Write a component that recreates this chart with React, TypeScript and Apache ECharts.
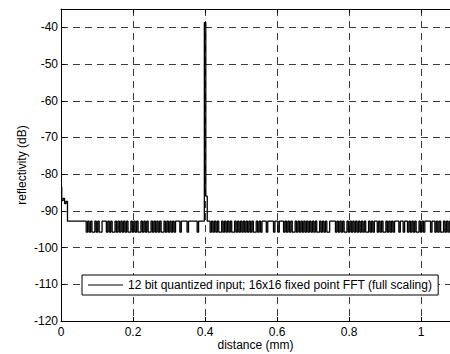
import React, { useEffect, useRef } from "react";
import * as echarts from "echarts";

// sample spacing along distance axis (mm)
const xStep = 0.004;

// first samples near the surface (dB), i = 0..17
const startValues = [
  -83.5, -87.2, -86.6, -88.0, -87.4, -92.8, -92.8, -92.8, -92.8, -92.8,
  -92.8, -92.8, -92.8, -92.8, -92.8, -92.8, -92.8, -92.8,
];

// quantized noise floor levels (dB)
const HIGH = -92.8;
const LOW = -95.8;
const PEAK = -38.7;
const SHOULDER = -86.0;

// level codes, i = 18..275 ("0" high, "1" low, "P" peak, "Q" shoulder)
const noiseSegments = [
  "101011010110", "00", "1010110101", "0", "10101101", "0", "10110101011", "0",
  "10101011", "0", "1010101", "00010000100000", "01000", "0", "P", "Q", "00",
  "101010110101", "0", "101101010101", "0", "1010110101", "00010000100100010",
  "10101101010101", "0", "101010110101011", "0000", "1010101101010101", "0",
  "10101101010", "0", "1010110101010", "00100100", "1010101101010", "000100",
  "1010110101010101",
];

const xTicks = [0, 0.2, 0.4, 0.6, 0.8, 1];
const yTicks = [-120, -110, -100, -90, -80, -70, -60, -50, -40];
const X_MAX = 1.08;
const Y_MAX = -35;

const seriesName = "12 bit quantized input; 16x16 fixed point FFT (full scaling)";
const FONT = "'Liberation Sans', Arial, Helvetica, sans-serif";

const codeValue: Record<string, number> = { "0": HIGH, "1": LOW, P: PEAK, Q: SHOULDER };

function onTick(v: number, ticks: number[]) {
  return ticks.some((t) => Math.abs(t - v) < 1e-6);
}

export default function App() {
  const ref = useRef<HTMLDivElement>(null);
  useEffect(() => {
    if (!ref.current) return;
    const chart = echarts.init(ref.current, undefined, { renderer: "svg" });
    const codes = noiseSegments.join("").split("");
    const values = startValues.concat(codes.map((c) => codeValue[c]));
    const data = values.map((v, i) => [i * xStep, v]);

    const gridLine = {
      show: true,
      showMaxLine: false,
      lineStyle: { color: "#3a3a3a", width: 1, type: [7, 5] as any },
    };
    chart.setOption({
      animation: false,
      backgroundColor: "#fff",
      textStyle: { fontFamily: FONT },
      grid: { left: 61, top: 9, right: 0, bottom: 33, containLabel: false, outerBoundsMode: "none" },
      legend: {
        left: 82,
        top: 275,
        padding: [3, 6],
        icon: "rect",
        itemWidth: 35,
        itemHeight: 1,
        itemGap: 5,
        borderColor: "#000",
        borderWidth: 1,
        borderRadius: 0,
        backgroundColor: "#fff",
        textStyle: { fontSize: 12, color: "#000", fontFamily: FONT, lineHeight: 14 },
        data: [seriesName],
      },
      xAxis: [
        {
          type: "value",
          min: xTicks[0],
          max: X_MAX,
          interval: 0.2,
          position: "bottom",
          name: "distance (mm)",
          nameLocation: "middle",
          nameGap: 18,
          nameMoveOverlap: false,
          nameTextStyle: { fontSize: 12, color: "#000", fontFamily: FONT, lineHeight: 12 },
          axisLine: { show: true, onZero: false, lineStyle: { color: "#000", width: 1 } },
          axisTick: { show: true, inside: true, length: 4, lineStyle: { color: "#000" } },
          axisLabel: {
            show: true,
            fontSize: 12,
            lineHeight: 12,
            color: "#000",
            margin: 5,
            fontFamily: FONT,
            formatter: (v: number) => (onTick(v, xTicks) ? String(+v.toFixed(1)) : ""),
          },
          splitLine: gridLine,
        },
        {
          type: "value",
          min: xTicks[0],
          max: X_MAX,
          interval: 0.2,
          position: "top",
          axisLine: { show: true, onZero: false, lineStyle: { color: "#000", width: 1 } },
          axisTick: { show: true, inside: true, length: 4, lineStyle: { color: "#000" } },
          axisLabel: { show: false },
          splitLine: { show: false },
        },
      ],
      yAxis: {
        type: "value",
        min: yTicks[0],
        max: Y_MAX,
        interval: 10,
        name: "reflectivity (dB)",
        nameLocation: "middle",
        nameGap: 33,
        nameMoveOverlap: false,
        nameTextStyle: { fontSize: 12, color: "#000", fontFamily: FONT },
        axisLine: { show: true, onZero: false, lineStyle: { color: "#000", width: 1 } },
        axisTick: { show: true, inside: true, length: 4, lineStyle: { color: "#000" } },
        axisLabel: {
          show: true,
          fontSize: 12,
          color: "#000",
          margin: 3,
          fontFamily: FONT,
          formatter: (v: number) => (onTick(v, yTicks) ? String(Math.round(v)) : ""),
        },
        splitLine: gridLine,
      },
      series: [
        {
          name: seriesName,
          type: "line",
          xAxisIndex: 0,
          symbol: "none",
          showSymbol: false,
          step: "middle",
          color: "#000",
          lineStyle: { color: "#000", width: 1.3 },
          data,
        },
      ],
    });
    return () => chart.dispose();
  }, []);
  return (
    <div
      ref={ref}
      style={{ position: "fixed", left: 0, top: 0, width: 450, height: 354, background: "#fff" }}
    />
  );
}
